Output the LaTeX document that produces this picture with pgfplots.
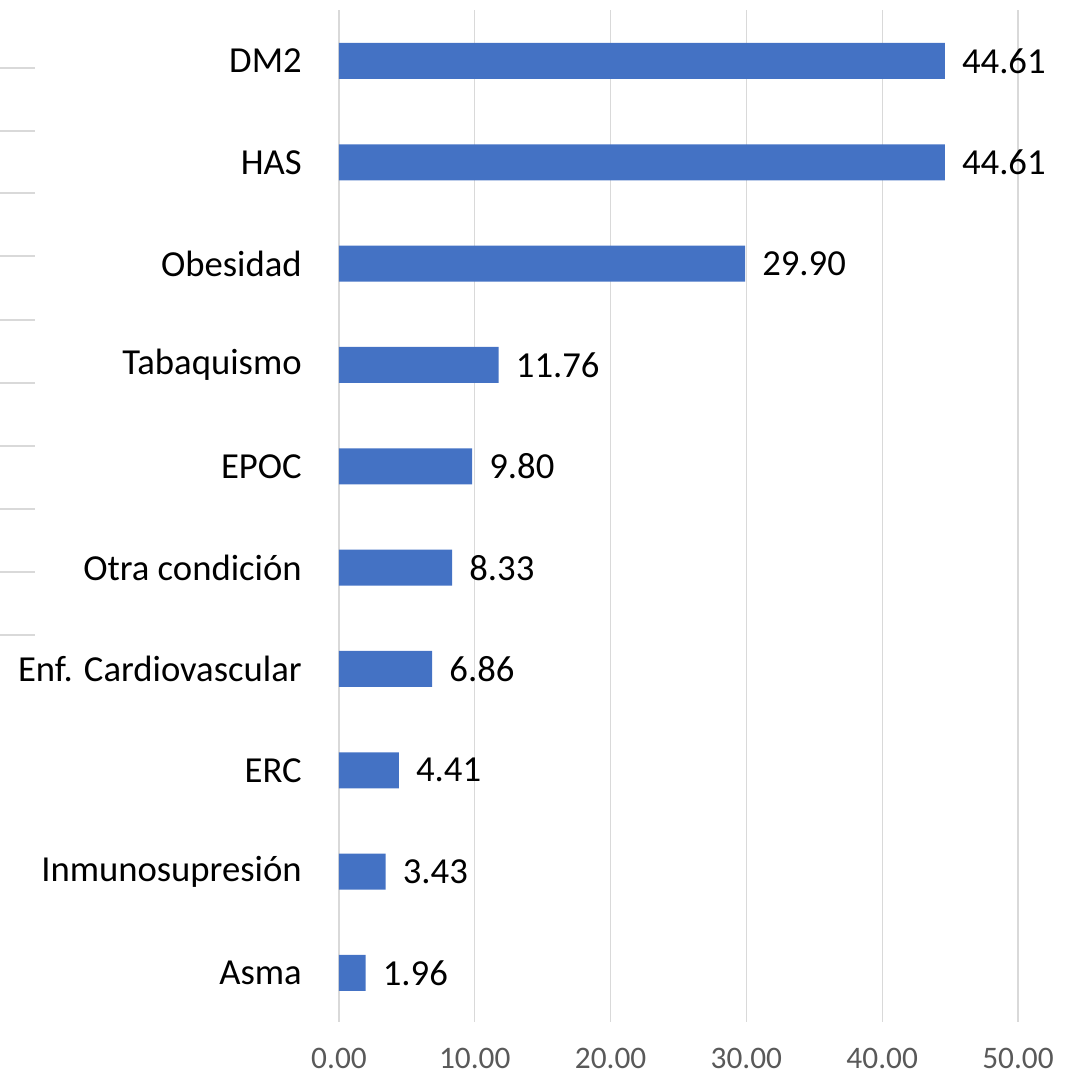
\documentclass[border=0pt]{standalone}
\usepackage{pgfplots}
\pgfplotsset{compat=1.18}
\usepackage{fontspec}
\setmainfont{Carlito}
\definecolor{barblue}{HTML}{4472C4}
\definecolor{gridgray}{HTML}{D9D9D9}
\definecolor{ticktext}{HTML}{595959}
\begin{document}
\begin{tikzpicture}
\path[use as bounding box] (-254.25pt,-44.25pt) rectangle (553.5pt,766.5pt);
\foreach \yy in {715.5,668.25,621.75,574.5,526.5,479.25,432,384.75,337.5,290.25}{
  \draw[gridgray,line width=1pt] (-254.25pt,\yy pt) -- (-228pt,\yy pt);
}
\begin{axis}[
  at={(0,0)}, anchor=south west,
  scale only axis,
  width=509.25pt, height=759pt,
  xbar, bar width=27pt,
  xmin=0, xmax=50, ymin=-0.484, ymax=9.503,
  axis line style={draw=none},
  xtick={0,10,20,30,40,50},
  ytick={0,1,2,3,4,5,6,7,8,9},
  yticklabels={Asma,Inmunosupresión,ERC,Enf. Cardiovascular,Otra condición,EPOC,Tabaquismo,Obesidad,HAS,DM2},
  major tick length=0pt,
  xmajorgrids, major grid style={gridgray, line width=1pt},
  xticklabel style={font=\fontsize{23.5pt}{26pt}\selectfont, text=ticktext, anchor=north, inner sep=0pt, yshift=-19.5pt},
  yticklabel style={font=\fontsize{27.5pt}{30pt}\selectfont, text=black, anchor=east, inner sep=0pt, xshift=-27.75pt},
  /pgf/number format/assume math mode=true,
  xticklabel={\pgfmathprintnumber[fixed,fixed zerofill,precision=2]{\tick}},
  nodes near coords,
  point meta=x,
  nodes near coords style={font=\fontsize{27.5pt}{30pt}\selectfont, anchor=west, inner sep=0pt, xshift=12.75pt, /pgf/number format/fixed, /pgf/number format/fixed zerofill, /pgf/number format/precision=2, /pgf/number format/assume math mode=true},
]
\addplot[fill=barblue, draw=none] coordinates {
(1.96,0) (3.43,1) (4.41,2) (6.86,3) (8.33,4) (9.80,5) (11.76,6) (29.90,7) (44.61,8) (44.61,9)
};
\end{axis}
\end{tikzpicture}
\end{document}
